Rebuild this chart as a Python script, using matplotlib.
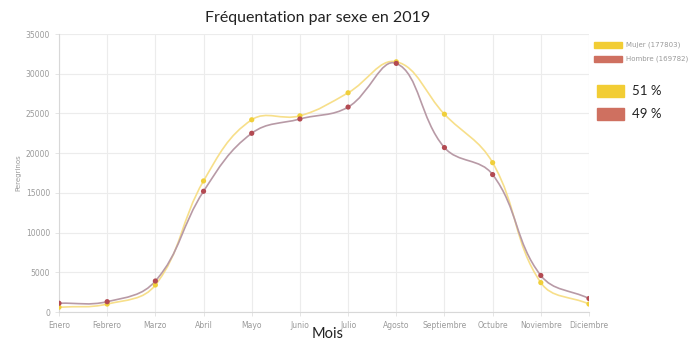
import matplotlib.pyplot as plt
import numpy as np
from matplotlib.path import Path
from matplotlib.patches import PathPatch, Rectangle

months = ['Enero', 'Febrero', 'Marzo', 'Abril', 'Mayo', 'Junio', 'Julio',
          'Agosto', 'Septiembre', 'Octubre', 'Noviembre', 'Diciembre']
mujer = [600, 1000, 3400, 16500, 24200, 24700, 27600, 31500, 24900, 18800, 3700, 1000]
hombre = [1100, 1300, 3900, 15200, 22500, 24300, 25800, 31300, 20700, 17300, 4600, 1700]
legend_labels = ['Mujer (177803)', 'Hombre (169782)']
pct_labels = ['51 %', '49 %']

YELLOW = '#f2cd34'
RED = '#cf7060'


def spline_path(xs, ys, tension=0.4):
	"""Chart.js style bezier through the points"""
	pts = list(zip(xs, ys))
	verts = [pts[0]]
	codes = [Path.MOVETO]
	n = len(pts)
	ctrl = []
	for i in range(n):
		prev = pts[max(i - 1, 0)]
		cur = pts[i]
		nxt = pts[min(i + 1, n - 1)]
		d01 = np.hypot(cur[0] - prev[0], cur[1] - prev[1])
		d12 = np.hypot(nxt[0] - cur[0], nxt[1] - cur[1])
		s01 = d01 / (d01 + d12) if d01 + d12 else 0
		s12 = d12 / (d01 + d12) if d01 + d12 else 0
		fa = tension * s01
		fb = tension * s12
		ctrl.append(((cur[0] - fa * (nxt[0] - prev[0]), cur[1] - fa * (nxt[1] - prev[1])),
		             (cur[0] + fb * (nxt[0] - prev[0]), cur[1] + fb * (nxt[1] - prev[1]))))
	for i in range(1, n):
		verts += [ctrl[i - 1][1], ctrl[i][0], pts[i]]
		codes += [Path.CURVE4] * 3
	return Path(verts, codes)


fig = plt.figure(figsize=(6.89, 3.4), dpi=100)
ax = fig.add_axes([59 / 689, 28 / 340, 530 / 689, 278 / 340])

x = np.arange(len(months))
# scale x so the curve shape matches pixel aspect (x unit ~ 48px, y 1000 ~ 7.94px)
sx = 48.2 / 7.94 * 1000

for vals, line_c, pt_c in [(mujer, '#f7df8a', '#f0cf3a'), (hombre, '#b89aa6', '#b34a52')]:
	p = spline_path(x * sx, vals)
	verts = p.vertices.copy()
	verts[:, 0] = verts[:, 0] / sx
	ax.add_patch(PathPatch(Path(verts, p.codes), fill=False, edgecolor=line_c, lw=1.2, zorder=3))
	ax.scatter(x, vals, s=14, color=pt_c, zorder=4, edgecolors='none')

ax.set_xlim(0, len(months) - 1)
ax.set_ylim(0, 35000)
ax.set_xticks(x)
ax.set_xticklabels(months)
ax.set_yticks(np.arange(0, 35001, 5000))
ax.grid(True, color='#ececec', lw=0.8)
ax.set_axisbelow(True)
ax.tick_params(labelsize=5.5, colors='#9a9a9a', length=3, width=0.6)
ax.tick_params(axis='x', color='#e0e0e0')
ax.tick_params(axis='y', color='#e0e0e0')
for sp in ['top', 'right']:
	ax.spines[sp].set_visible(False)
for sp in ['left', 'bottom']:
	ax.spines[sp].set_color('#d8d8d8')
	ax.spines[sp].set_linewidth(0.8)

ax.set_ylabel('Peregrinos', fontsize=5, color='#9a9a9a', labelpad=3)

fig.text(318 / 689, 1 - 18 / 340, 'Fréquentation par sexe en 2019', ha='center', va='center',
         fontsize=11.5, family='Lato', color='#222222')
fig.text(328 / 689, 1 - 327 / 340, 'Mois', ha='center', va='top', fontsize=10.5, family='Lato',
         color='#222222')

# legend
for i, (lab, c) in enumerate(zip(legend_labels, [YELLOW, RED])):
	y0 = 42 + i * 14
	fig.patches.append(Rectangle((594 / 689, 1 - (y0 + 6) / 340), 28 / 689, 6 / 340,
	                             transform=fig.transFigure, color=c))
	fig.text(626 / 689, 1 - (y0 + 3) / 340, lab, fontsize=5, color='#9a9a9a', va='center')

for i, (lab, c) in enumerate(zip(pct_labels, [YELLOW, RED])):
	y0 = 85 + i * 23
	fig.patches.append(Rectangle((597 / 689, 1 - (y0 + 12) / 340), 27 / 689, 12 / 340,
	                             transform=fig.transFigure, color=c))
	fig.text(632 / 689, 1 - (y0 + 6) / 340, lab, fontsize=9.5, family='Lato', color='#222222',
	         va='center')

fig.savefig('out.png', dpi=100)
